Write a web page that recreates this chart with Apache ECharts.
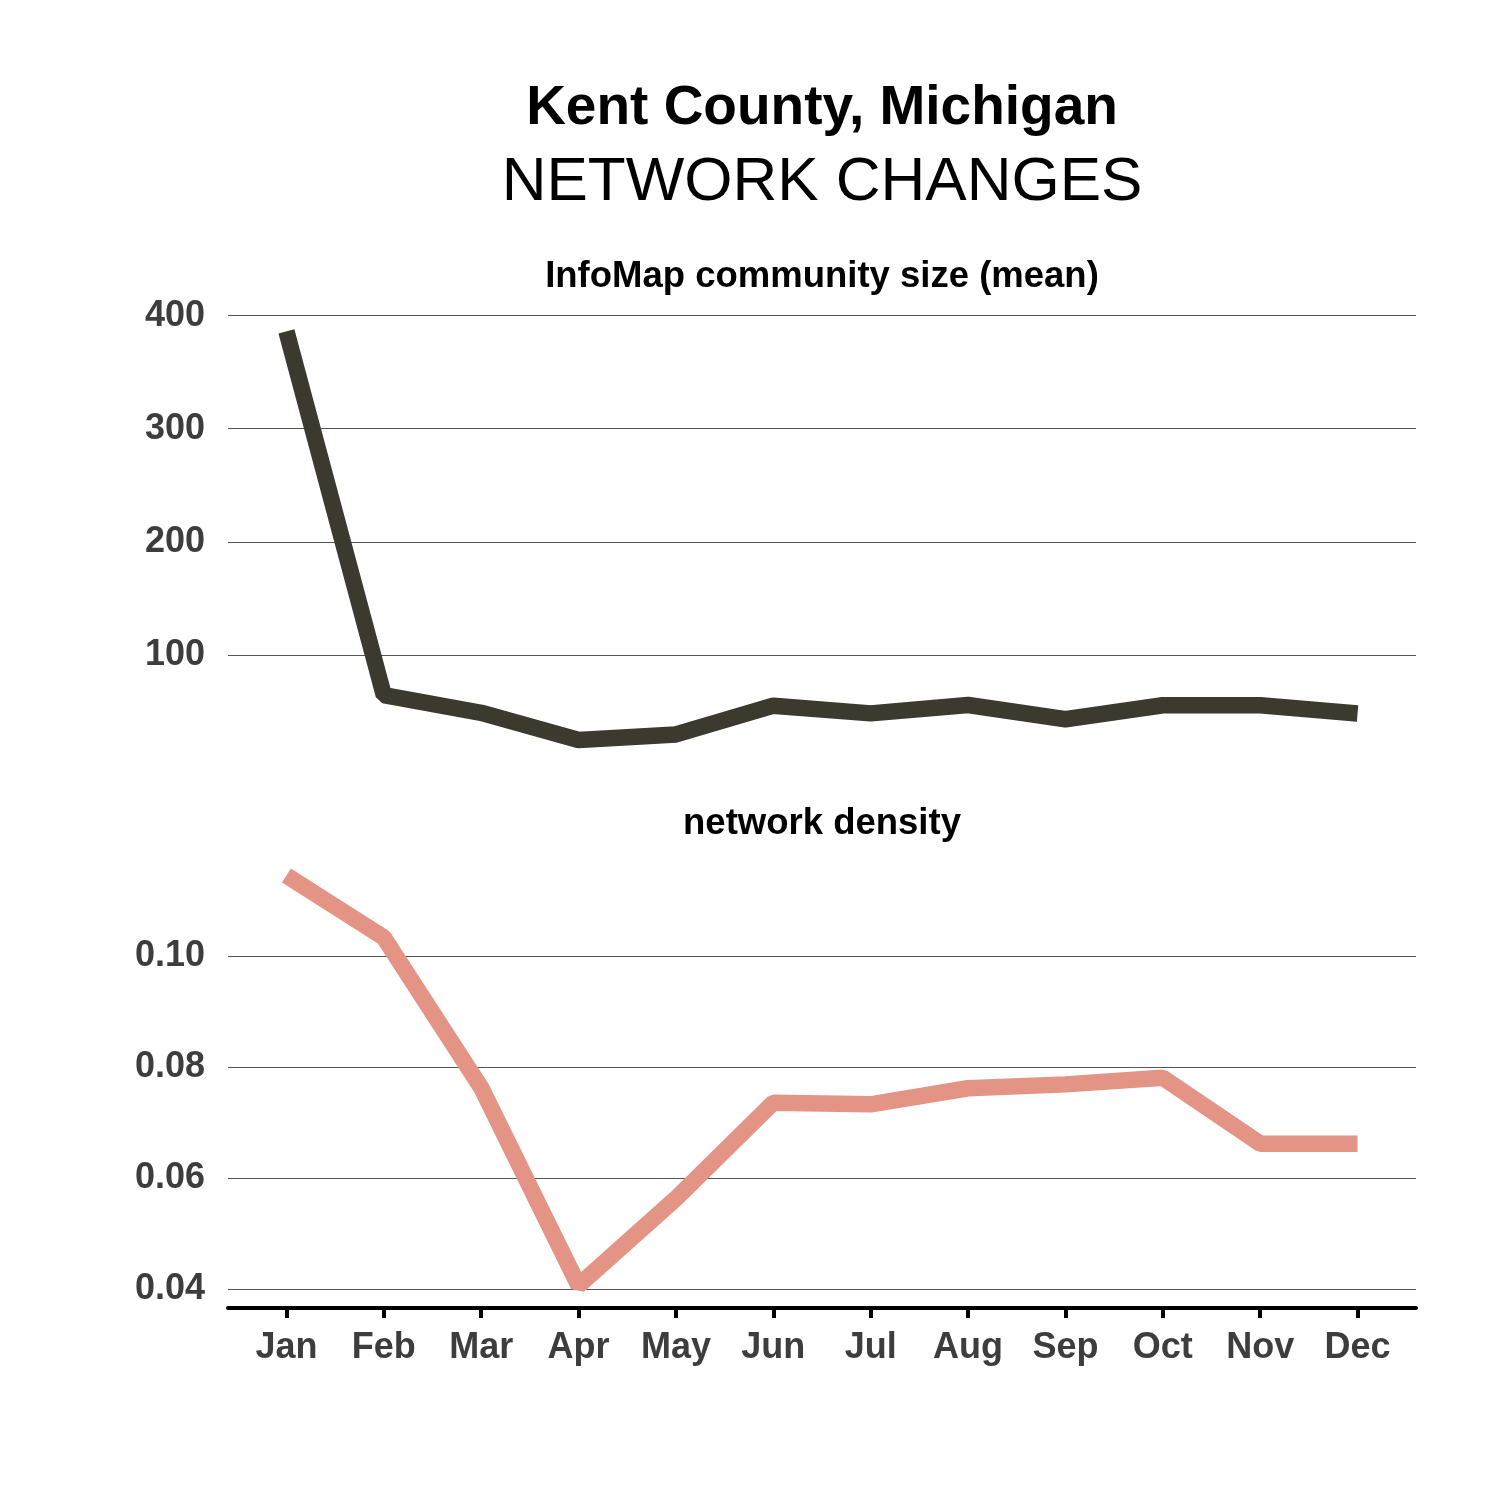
<!DOCTYPE html>
<html>
<head>
<meta charset="utf-8">
<script src="https://cdn.jsdelivr.net/npm/echarts@6/dist/echarts.min.js"></script>
<style>
html,body{margin:0;padding:0;background:#fff;}
#chart{width:1500px;height:1500px;}
</style>
</head>
<body>
<div id="chart"></div>
<script>
const months = ['Jan','Feb','Mar','Apr','May','Jun','Jul','Aug','Sep','Oct','Nov','Dec'];
const communitySize = [386, 64.6, 48.9, 24.8, 29.8, 55.2, 48.4, 55.8, 43.2, 55.6, 55.6, 48.3];
const networkDensity = [0.1146, 0.1034, 0.0763, 0.0406, 0.0563, 0.0736, 0.0733, 0.0762, 0.0769, 0.0781, 0.0662, 0.0662];
const sizeTicks = [100, 200, 300, 400];
const densityTicks = [0.04, 0.06, 0.08, 0.10];

const FONT = '"Liberation Sans", Arial, Helvetica, sans-serif';
const LABEL_COLOR = '#3d3d3d';
const GRID_COLOR = '#555555';

function expandRange(arr) {
  const mn = Math.min(...arr), mx = Math.max(...arr);
  const pad = (mx - mn) * 0.05;
  return [mn - pad, mx + pad];
}
const r1 = expandRange(communitySize);
const r2 = expandRange(networkDensity);
const monthIdx = months.map((m, i) => i);

function yAxisFor(gridIndex, range, ticks, fmt) {
  return {
    type: 'value', gridIndex: gridIndex, min: range[0], max: range[1],
    axisLine: { show: false },
    axisTick: { show: true, length: 11, lineStyle: { color: GRID_COLOR, width: 1 }, customValues: ticks },
    axisLabel: { customValues: ticks, formatter: fmt, margin: 23, fontSize: 36, fontWeight: 'bold', color: LABEL_COLOR, fontFamily: FONT, padding: [6, 0, 0, 0] },
    splitLine: { show: true, lineStyle: { color: GRID_COLOR, width: 1 } }
  };
}

const chart = echarts.init(document.getElementById('chart'), null, { renderer: 'canvas' });
chart.setOption({
  animation: false,
  backgroundColor: '#ffffff',
  grid: [
    { left: 228, right: 84, top: 311, height: 449.5 },
    { left: 228, right: 84, top: 855, height: 451 }
  ],
  xAxis: [
    { type: 'value', gridIndex: 0, min: -0.6, max: 11.6, show: false, splitLine: { show: false } },
    {
      type: 'value', gridIndex: 1, min: -0.6, max: 11.6, offset: 2,
      splitLine: { show: false },
      axisLine: { show: true, lineStyle: { color: '#000', width: 4 } },
      axisTick: { show: true, length: 10, lineStyle: { color: '#000', width: 4 }, customValues: monthIdx },
      axisLabel: { customValues: monthIdx, formatter: v => months[Math.round(v)], margin: 22, fontSize: 36, fontWeight: 'bold', color: LABEL_COLOR, fontFamily: FONT }
    }
  ],
  yAxis: [
    yAxisFor(0, r1, sizeTicks, v => String(Math.round(v))),
    yAxisFor(1, r2, densityTicks, v => v.toFixed(2))
  ],
  series: [
    {
      type: 'line', xAxisIndex: 0, yAxisIndex: 0, symbol: 'none', silent: true,
      data: communitySize.map((v, i) => [i, v]),
      lineStyle: { color: '#3c392f', width: 16.5, cap: 'butt' }
    },
    {
      type: 'line', xAxisIndex: 1, yAxisIndex: 1, symbol: 'none', silent: true,
      data: networkDensity.map((v, i) => [i, v]),
      lineStyle: { color: '#e49485', width: 16.5, cap: 'butt' }
    }
  ],
  graphic: [
    { type: 'text', x: 822, y: 81, style: { text: 'Kent County, Michigan', fill: '#000', fontSize: 55, fontWeight: 'bold', fontFamily: FONT, align: 'center', verticalAlign: 'top' } },
    { type: 'text', x: 822, y: 152, style: { text: 'NETWORK CHANGES', fill: '#000', fontSize: 62, fontWeight: 'normal', fontFamily: FONT, align: 'center', verticalAlign: 'top' } },
    { type: 'text', x: 822, y: 258, style: { text: 'InfoMap community size (mean)', fill: '#000', fontSize: 36.5, fontWeight: 'bold', fontFamily: FONT, align: 'center', verticalAlign: 'top' } },
    { type: 'text', x: 822, y: 805, style: { text: 'network density', fill: '#000', fontSize: 36.5, fontWeight: 'bold', fontFamily: FONT, align: 'center', verticalAlign: 'top' } }
  ]
});
</script>
</body>
</html>
